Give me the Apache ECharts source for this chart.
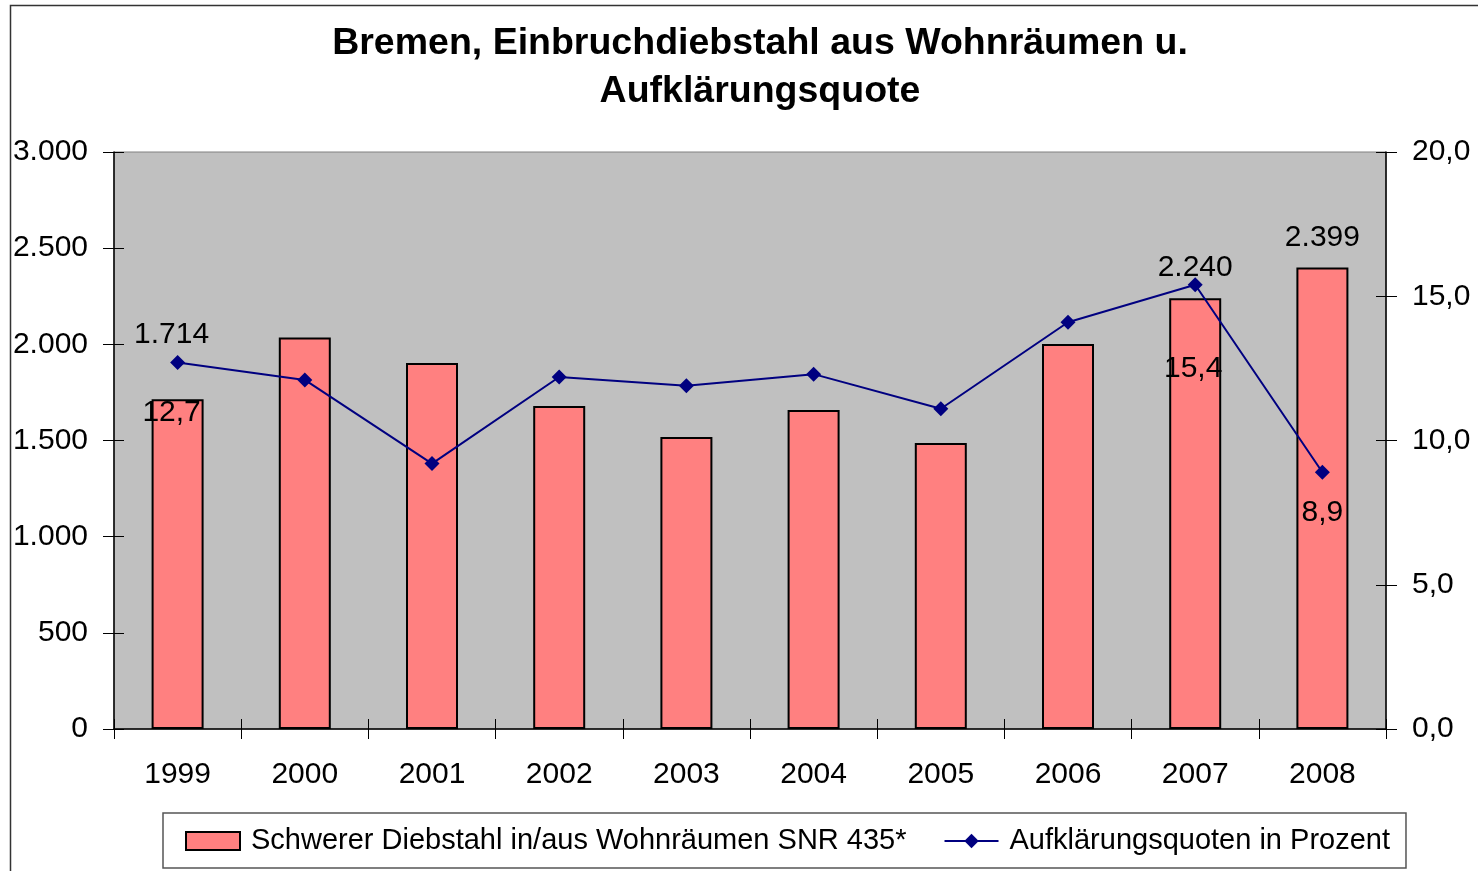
<!DOCTYPE html>
<html>
<head>
<meta charset="utf-8">
<script src="https://cdn.jsdelivr.net/npm/echarts@6/dist/echarts.min.js"></script>
<style>html,body{margin:0;padding:0;background:#fff}#c{width:1478px;height:871px}</style>
</head>
<body>
<div id="c"></div>
<script>
const years = ['1999','2000','2001','2002','2003','2004','2005','2006','2007','2008'];
const burglaries = [1714, 2035, 1903, 1680, 1518, 1659, 1487, 2002, 2240, 2399];
const clearanceRates = [12.7, 12.1, 9.2, 12.2, 11.9, 12.3, 11.1, 14.1, 15.4, 8.9];
const barLabelShown = [true, false, false, false, false, false, false, false, true, true];
const lineLabelShown = [true, false, false, false, false, false, false, false, true, true];
const leftTicks = [0, 500, 1000, 1500, 2000, 2500, 3000];
const rightTicks = [0, 5, 10, 15, 20];

const FONT = "'Liberation Sans', Arial, sans-serif";
const fmtThousand = v => String(Math.round(v)).replace(/\B(?=(\d{3})+(?!\d))/g, '.');
const fmtDec = v => v.toFixed(1).replace('.', ',');

const barOffsets = {0: [-6, -50], 8: [0, -15], 9: [0, -15]};
const lineOffsets = {0: [-6, 50], 8: [-2, 84], 9: [0, 40]};

const barData = burglaries.map((v, i) => ({
  value: v,
  label: barLabelShown[i] ? {show: true, position: 'top', distance: 0, offset: barOffsets[i]} : {show: false}
}));
const lineData = clearanceRates.map((v, i) => ({
  value: v,
  label: lineLabelShown[i] ? {show: true, position: 'inside', offset: lineOffsets[i]} : {show: false}
}));

const chart = echarts.init(document.getElementById('c'), null, {renderer: 'canvas'});
chart.setOption({
  animation: false,
  backgroundColor: '#ffffff',
  textStyle: {fontFamily: FONT},
  title: {
    text: 'Bremen, Einbruchdiebstahl aus Wohnräumen u.\nAufklärungsquote',
    left: 755,
    textAlign: 'center',
    top: 15,
    textStyle: {fontFamily: FONT, fontSize: 37.5, fontWeight: 'bold', color: '#000', lineHeight: 48}
  },
  graphic: [{
    type: 'rect',
    shape: {x: 10.5, y: 5.5, width: 1600, height: 1000},
    style: {fill: 'none', stroke: '#333333', lineWidth: 1.5},
    silent: true, z: 100
  }],
  legend: {
    left: 163, top: 813,
    padding: [13, 16, 12, 22],
    itemGap: 37,
    itemWidth: 54, itemHeight: 18,
    borderColor: '#555', borderWidth: 1.5,
    textStyle: {fontFamily: FONT, fontSize: 29, color: '#000', lineHeight: 30, padding: [0, 0, 0, 6]},
    data: [{name: 'Schwerer Diebstahl in/aus Wohnräumen SNR 435*', icon: 'rect'}, {name: 'Aufklärungsquoten in Prozent'}]
  },
  grid: {
    left: 114, right: 92, top: 152, bottom: 142,
    show: true, backgroundColor: '#C0C0C0', borderColor: '#808080', borderWidth: 1
  },
  xAxis: [{
    type: 'category', data: years,
    axisLine: {lineStyle: {color: '#000', width: 1.5}},
    axisTick: {show: true, length: 10, lineStyle: {color: '#000'}},
    axisLabel: {fontFamily: FONT, fontSize: 30, color: '#000', margin: 31}
  }, {
    type: 'category', data: years, position: 'bottom',
    axisLine: {show: false},
    axisTick: {show: true, inside: true, length: 10, lineStyle: {color: '#000'}},
    axisLabel: {show: false}
  }],
  yAxis: [{
    type: 'value', min: 0, max: 3000, interval: 500, position: 'left',
    axisLine: {show: true, lineStyle: {color: '#000', width: 1.5}},
    axisTick: {show: true, length: 11, lineStyle: {color: '#000'}},
    splitLine: {show: false},
    axisLabel: {fontFamily: FONT, fontSize: 30, color: '#000', margin: 26, formatter: v => fmtThousand(v)}
  }, {
    type: 'value', min: 0, max: 20, interval: 5, position: 'right',
    axisLine: {show: true, lineStyle: {color: '#000', width: 1.5}},
    axisTick: {show: true, length: 11, lineStyle: {color: '#000'}},
    splitLine: {show: false},
    axisLabel: {fontFamily: FONT, fontSize: 30, color: '#000', margin: 26, formatter: v => fmtDec(v)}
  }, {
    type: 'value', min: 0, max: 3000, interval: 500, position: 'left',
    axisLine: {show: false},
    axisTick: {show: true, inside: true, length: 10, lineStyle: {color: '#000'}},
    splitLine: {show: false}, axisLabel: {show: false}
  }, {
    type: 'value', min: 0, max: 20, interval: 5, position: 'right',
    axisLine: {show: false},
    axisTick: {show: true, inside: true, length: 10, lineStyle: {color: '#000'}},
    splitLine: {show: false}, axisLabel: {show: false}
  }],
  series: [{
    name: 'Schwerer Diebstahl in/aus Wohnräumen SNR 435*',
    type: 'bar',
    xAxisIndex: 0, yAxisIndex: 0,
    barWidth: 52,
    itemStyle: {color: '#FF8080', borderColor: '#000', borderWidth: 2},
    label: {fontFamily: FONT, fontSize: 30, color: '#000', lineHeight: 30, formatter: p => fmtThousand(p.value)},
    data: barData,
    z: 2
  }, {
    name: 'Aufklärungsquoten in Prozent',
    type: 'line',
    xAxisIndex: 0, yAxisIndex: 1,
    symbol: 'diamond', symbolSize: 15,
    lineStyle: {color: '#000080', width: 2},
    itemStyle: {color: '#000080'},
    label: {fontFamily: FONT, fontSize: 30, color: '#000', lineHeight: 30, formatter: p => fmtDec(p.value)},
    data: lineData,
    z: 3
  }]
});
</script>
</body>
</html>
